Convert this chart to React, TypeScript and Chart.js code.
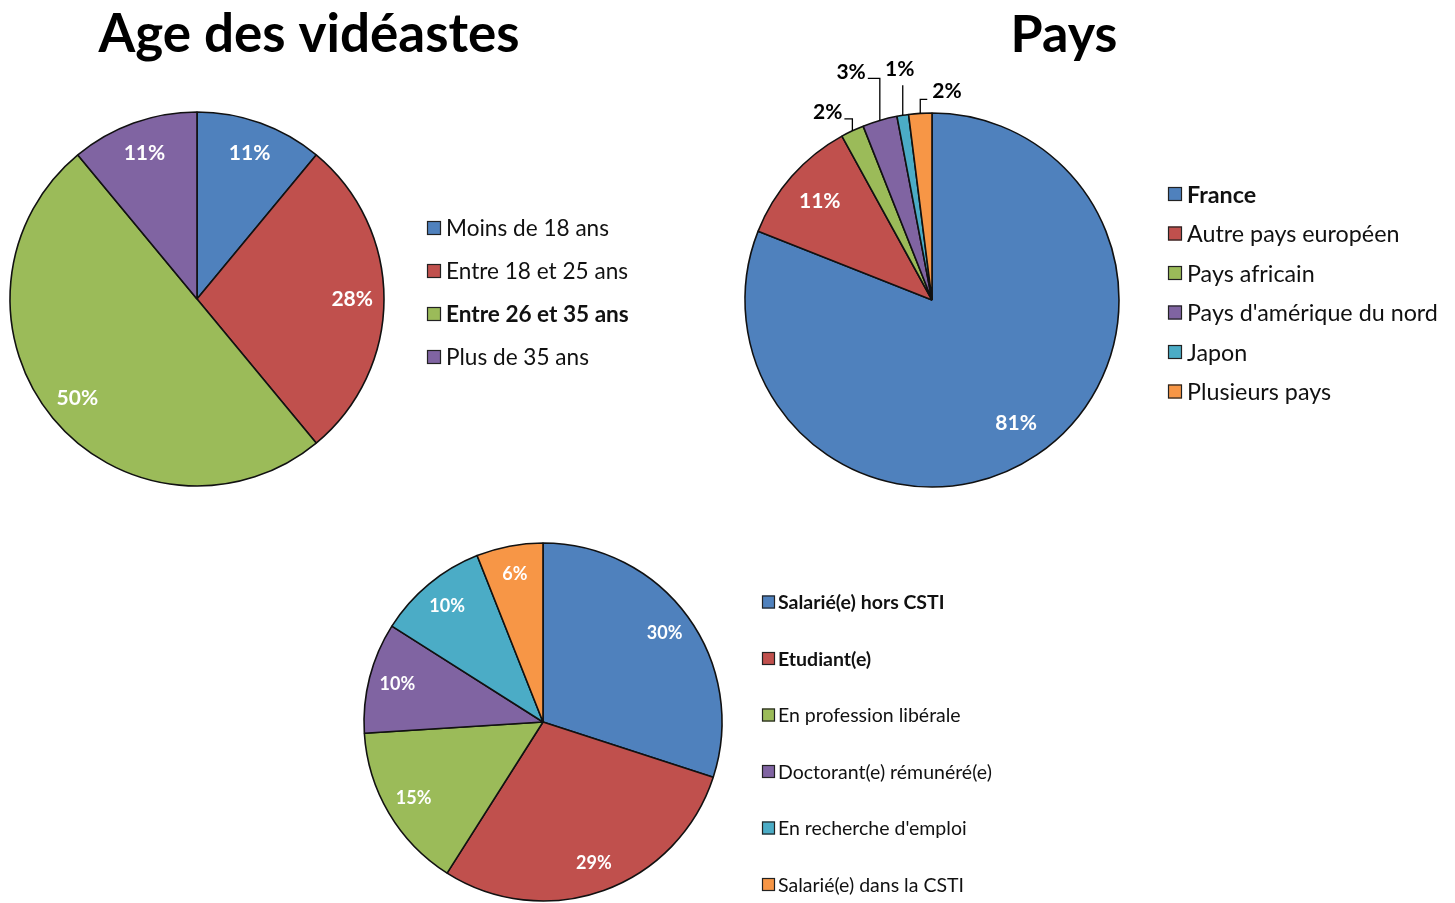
import React, { useEffect, useRef } from "react";
import { Chart, registerables } from "chart.js";

Chart.register(...registerables);

const W = 1455;
const H = 903;
const FONT = "Lato, 'Open Sans', sans-serif";

// ---- Data ----
const ageLabels = ["Moins de 18 ans", "Entre 18 et 25 ans", "Entre 26 et 35 ans", "Plus de 35 ans"];
const ageValues = [11, 28, 50, 11];

const paysLabels = [
  "France",
  "Autre pays européen",
  "Pays africain",
  "Pays d'amérique du nord",
  "Japon",
  "Plusieurs pays",
];
const paysValues = [81, 11, 2, 3, 1, 2];

const statutLabels = [
  "Salarié(e) hors CSTI",
  "Etudiant(e)",
  "En profession libérale",
  "Doctorant(e) rémunéré(e)",
  "En recherche d'emploi",
  "Salarié(e) dans la CSTI",
];
const statutValues = [30, 29, 15, 10, 10, 6];

const BLUE = "#4F81BD";
const RED = "#C0504D";
const GREEN = "#9BBB59";
const PURPLE = "#8064A2";
const AQUA = "#4BACC6";
const ORANGE = "#F79646";

type Leader = { rise: number; run: number; align: CanvasTextAlign; tx: number; ty: number };

type Cfg = {
  labels: string[];
  values: number[];
  colors: string[];
  cx: number;
  cy: number;
  r: number;
  title?: string;
  titleX?: number;
  titleY?: number;
  titleSize?: number;
  labelFont: number;
  labelFactor: number;
  outFont?: number;
  leaders?: (Leader | null)[];
  legendX: number;
  legendY0: number;
  legendStep: number;
  legendFont: number;
  legendBox: number;
  legendGap: number;
  boldIdx: number[];
};

const configs: Cfg[] = [
  {
    labels: ageLabels,
    values: ageValues,
    colors: [BLUE, RED, GREEN, PURPLE],
    cx: 197,
    cy: 299,
    r: 187,
    title: "Age des vidéastes",
    titleX: 309,
    titleY: 52,
    titleSize: 53,
    labelFont: 21,
    labelFactor: 0.83,
    legendX: 427,
    legendY0: 228,
    legendStep: 43,
    legendFont: 22.6,
    legendBox: 14,
    legendGap: 5,
    boldIdx: [2],
  },
  {
    labels: paysLabels,
    values: paysValues,
    colors: [BLUE, RED, GREEN, PURPLE, AQUA, ORANGE],
    cx: 932,
    cy: 300,
    r: 187,
    title: "Pays",
    titleX: 1064,
    titleY: 52,
    titleSize: 52,
    labelFont: 21,
    labelFactor: 0.8,
    outFont: 21,
    leaders: [
      null,
      null,
      { rise: 12, run: -8, align: "right", tx: -2, ty: -7 },
      { rise: 42, run: -12, align: "right", tx: -2, ty: -6 },
      { rise: 30, run: 0, align: "center", tx: -3, ty: -16 },
      { rise: 14, run: 7, align: "left", tx: 5, ty: -8 },
    ],
    legendX: 1168,
    legendY0: 194,
    legendStep: 39.5,
    legendFont: 23.3,
    legendBox: 14,
    legendGap: 5,
    boldIdx: [0],
  },
  {
    labels: statutLabels,
    values: statutValues,
    colors: [BLUE, RED, GREEN, PURPLE, AQUA, ORANGE],
    cx: 543,
    cy: 722,
    r: 179,
    labelFont: 18,
    labelFactor: 0.84,
    legendX: 762,
    legendY0: 602,
    legendStep: 56.5,
    legendFont: 19.5,
    legendBox: 13,
    legendGap: 3,
    boldIdx: [0, 1],
  },
];

function overlayPlugin(cfg: Cfg) {
  return {
    id: "overlay",
    afterDraw(chart: any) {
      const ctx: CanvasRenderingContext2D = chart.ctx;
      ctx.save();
      if (cfg.title) {
        ctx.font = `bold ${cfg.titleSize}px ${FONT}`;
        ctx.fillStyle = "#000";
        ctx.textAlign = "center";
        ctx.textBaseline = "alphabetic";
        ctx.fillText(cfg.title, cfg.titleX!, cfg.titleY!);
      }
      const meta = chart.getDatasetMeta(0);
      const ds = chart.data.datasets[0];
      meta.data.forEach((arc: any, i: number) => {
        const { x, y, startAngle, endAngle, outerRadius } = arc.getProps(
          ["x", "y", "startAngle", "endAngle", "outerRadius"],
          true
        );
        const mid = (startAngle + endAngle) / 2;
        const text = ds.data[i] + "%";
        const leader = cfg.leaders ? cfg.leaders[i] : null;
        if (leader) {
          const px = x + Math.cos(mid) * outerRadius;
          const py = y + Math.sin(mid) * outerRadius;
          const ey = py - leader.rise;
          const ex = px + leader.run;
          ctx.strokeStyle = "#000";
          ctx.lineWidth = 1.3;
          ctx.beginPath();
          ctx.moveTo(px, py);
          ctx.lineTo(px, ey);
          ctx.lineTo(ex, ey);
          ctx.stroke();
          ctx.font = `bold ${cfg.outFont}px ${FONT}`;
          ctx.fillStyle = "#000";
          ctx.textAlign = leader.align;
          ctx.textBaseline = "middle";
          ctx.fillText(text, ex + leader.tx, ey + leader.ty);
        } else {
          ctx.font = `bold ${cfg.labelFont}px ${FONT}`;
          ctx.fillStyle = "#fff";
          ctx.textAlign = "center";
          ctx.textBaseline = "middle";
          ctx.fillText(
            text,
            x + Math.cos(mid) * outerRadius * cfg.labelFactor,
            y + Math.sin(mid) * outerRadius * cfg.labelFactor
          );
        }
      });
      // legend
      const colors = ds.backgroundColor as string[];
      chart.data.labels.forEach((lab: string, i: number) => {
        const yy = cfg.legendY0 + i * cfg.legendStep;
        const b = cfg.legendBox;
        ctx.fillStyle = colors[i];
        ctx.fillRect(cfg.legendX, yy - b / 2, b, b);
        ctx.strokeStyle = "#222";
        ctx.lineWidth = 1.2;
        ctx.strokeRect(cfg.legendX + 0.5, yy - b / 2 + 0.5, b - 1, b - 1);
        ctx.fillStyle = "#111";
        ctx.font = `${cfg.boldIdx.includes(i) ? "bold " : ""}${cfg.legendFont}px ${FONT}`;
        ctx.textAlign = "left";
        ctx.textBaseline = "middle";
        ctx.fillText(lab, cfg.legendX + b + cfg.legendGap, yy + 1);
      });
      ctx.restore();
    },
  };
}

function PieCanvas({ cfg }: { cfg: Cfg }) {
  const ref = useRef<HTMLCanvasElement | null>(null);
  useEffect(() => {
    if (!ref.current) return;
    const half = Math.min(cfg.cx, cfg.cy, W - cfg.cx, H - cfg.cy);
    const chart = new Chart(ref.current, {
      type: "pie",
      data: {
        labels: cfg.labels,
        datasets: [
          {
            data: cfg.values,
            backgroundColor: cfg.colors,
            borderColor: "#111",
            borderWidth: 1.6,
          },
        ],
      },
      options: {
        responsive: false,
        animation: false,
        devicePixelRatio: 1,
        radius: cfg.r,
        events: [],
        layout: {
          padding: {
            left: cfg.cx - half,
            right: W - cfg.cx - half,
            top: cfg.cy - half,
            bottom: H - cfg.cy - half,
          },
        },
        plugins: {
          legend: { display: false },
          tooltip: { enabled: false },
          title: { display: false },
        },
      } as any,
      plugins: [overlayPlugin(cfg)],
    });
    return () => chart.destroy();
  }, [cfg]);
  return (
    <canvas
      ref={ref}
      width={W}
      height={H}
      style={{ position: "absolute", left: 0, top: 0, width: W, height: H }}
    />
  );
}

export default function App() {
  return (
    <div style={{ position: "absolute", left: 0, top: 0, width: W, height: H, background: "#fff" }}>
      {configs.map((c, i) => (
        <PieCanvas key={i} cfg={c} />
      ))}
    </div>
  );
}
